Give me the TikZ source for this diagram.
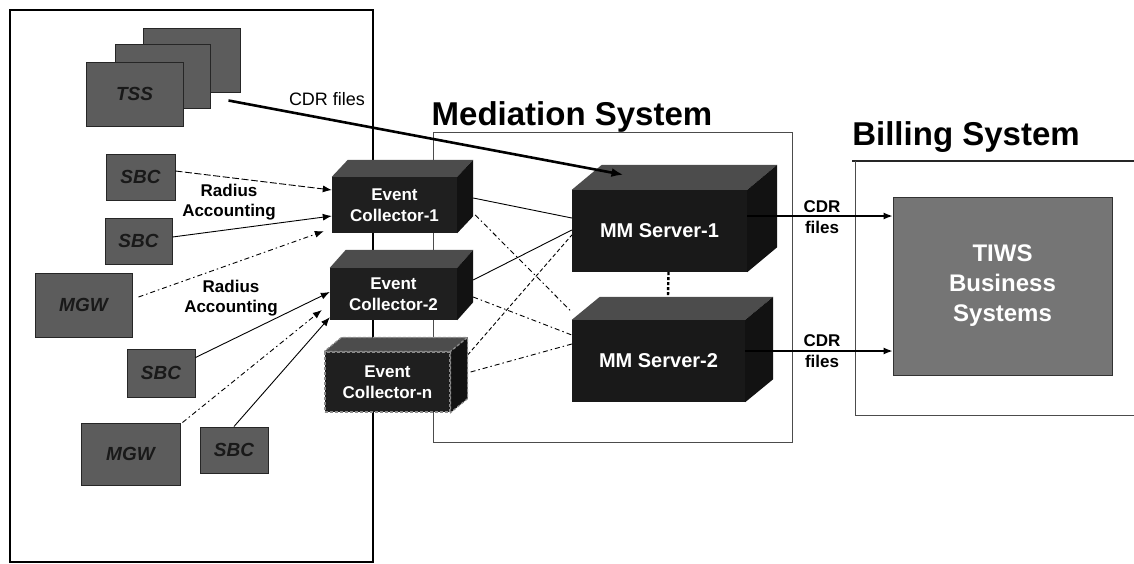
\documentclass[tikz,border=0pt]{standalone}
\usepackage{fontspec}
\setmainfont{Liberation Sans}
\usetikzlibrary{arrows.meta}
\pgfdeclarelayer{bg}
\pgfsetlayers{bg,main}
% top and right faces of a block whose front face is node #2, depth (#3 right, #4 up)
\newcommand\blockfaces[4][]{%
  \fill[topface,#1] (#2.north west) -- (#2.north east) -- ++(#3,-#4)
       -- ([shift={(#3,-#4)}]#2.north west) -- cycle;
  \fill[sideface,#1] (#2.north east) -- (#2.south east) -- ++(#3,-#4)
       -- ([shift={(#3,-#4)}]#2.north east) -- cycle;
}
\begin{document}
\begin{tikzpicture}[x=1pt,y=-1pt,
  src/.style={draw=black!85, fill=black!64, line width=1pt, inner sep=0pt,
    font=\fontsize{19}{21}\selectfont\bfseries\itshape, text=black!90},
  front/.style={fill=black!88, inner sep=0pt, align=center, text=white,
    font=\fontsize{17}{21}\selectfont\bfseries},
  mmfront/.style={front, fill=black!90, font=\fontsize{20}{24}\selectfont\bfseries},
  topface/.style={fill=black!70},
  sideface/.style={fill=black!93},
  ragged/.style={draw=black!45, line width=1.2pt, densely dashed},
  link/.style={line width=0.9pt, black},
  arr/.style={link, -{Latex[length=9pt,width=7pt]}},
  dashdot/.style={dash pattern=on 5pt off 3pt on 1.5pt off 3pt},
  longdash/.style={dash pattern=on 7pt off 2.5pt},
  lbl/.style={font=\fontsize{17}{20}\selectfont\bfseries, align=center, inner sep=0pt},
  title/.style={font=\fontsize{33}{37}\selectfont\bfseries, inner sep=0pt}
]
\useasboundingbox (0,0) rectangle (1134,563);

% ---- network elements ----
\node[src, minimum width=97pt, minimum height=64pt] (tss1) at (191.5,60) {};
\node[src, minimum width=95pt, minimum height=64pt] (tss2) at (162.5,76) {};
\node[src, minimum width=97pt, minimum height=64pt] (tss3) at (134.5,94) {TSS};
\node[src, minimum width=69pt, minimum height=46pt] (sbc1) at (140.5,177) {SBC};
\node[src, minimum width=67pt, minimum height=46pt] (sbc2) at (138.5,241) {SBC};
\node[src, minimum width=97pt, minimum height=64pt] (mgw1) at (83.5,305) {MGW};
\node[src, minimum width=68pt, minimum height=48pt] (sbc3) at (161,373) {SBC};
\node[src, minimum width=99pt, minimum height=62pt] (mgw2) at (130.5,454) {MGW};
\node[src, minimum width=68pt, minimum height=46pt] (sbc4) at (234,450) {SBC};

% ---- event collectors ----
\node[front, minimum width=125pt, minimum height=56pt] (ec1) at (394.5,205) {Event\\Collector-1};
\blockfaces{ec1}{16}{17}
\node[front, minimum width=127pt, minimum height=52pt] (ec2) at (393.5,294) {Event\\Collector-2};
\blockfaces{ec2}{16}{18}
\node[front, ragged, minimum width=125pt, minimum height=60pt] (ecn) at (387.5,382) {Event\\Collector-n};
\blockfaces[ragged]{ecn}{17}{14}

% ---- mediation servers ----
\node[mmfront, minimum width=175pt, minimum height=82pt] (mm1) at (659.5,231) {MM Server-1};
\blockfaces{mm1}{30}{25}
\node[mmfront, minimum width=173pt, minimum height=82pt] (mm2) at (658.5,361) {MM Server-2};
\blockfaces{mm2}{28}{23}

% ---- billing ----
\node[draw=black!80, fill=black!54, line width=1pt, minimum width=219pt, minimum height=178pt,
      align=center, text=white, font=\fontsize{24}{30}\selectfont\bfseries] (tiws)
      at (1002.5,286) {TIWS\\Business\\Systems};

% ---- frames and links behind the blocks ----
\begin{pgfonlayer}{bg}
  \draw[line width=1.1pt] (10,10) rectangle (373,562);
  \draw[black!70, line width=0.9pt] (433,132) rectangle (792,442);
  \draw[black!85, line width=1.5pt] (852,161) -- (1134,161);
  \draw[black!70, line width=0.9pt] (855,161) -- (855,415) -- (1134,415);
  \draw[link] ([shift={(16pt,7pt)}]ec1.east) -- ([yshift=13pt]mm1.west);
  \draw[link, dashdot] ([shift={(18pt,-10pt)}]ec1.east) -- ([yshift=49pt]mm2.west);
  \draw[link] ([shift={(16pt,14pt)}]ec2.east) -- ([yshift=1pt]mm1.west);
  \draw[link, dashdot] ([shift={(16pt,-3pt)}]ec2.east) -- ([yshift=26pt]mm2.west);
  \draw[link, dash pattern=on 4pt off 2.5pt] ([shift={(17pt,27pt)}]ecn.east) -- ([yshift=-4pt]mm1.west);
  \draw[link, dashdot] ([shift={(20pt,10pt)}]ecn.east) -- ([yshift=17pt]mm2.west);
  \draw[line width=2.4pt, dash pattern=on 3pt off 2pt] ([xshift=9pt]mm1.south) -- ([xshift=9pt]mm2.north);
\end{pgfonlayer}

% ---- accounting records into the collectors ----
\draw[arr, longdash] ([yshift=6pt]sbc1.east) -- ([yshift=15pt]ec1.west);
\draw[arr] ([yshift=4pt]sbc2.east) -- ([yshift=-11pt]ec1.west);
\draw[arr, dashdot] ([shift={(6pt,8pt)}]mgw1.east) -- ([shift={(-8pt,2pt)}]ec1.south west);
\draw[arr] ([yshift=-9pt]sbc3.north east) -- ([yshift=2pt]ec2.west);
\draw[arr, dashdot] ([xshift=2pt]mgw2.north east) -- ([shift={(-8pt,-16pt)}]ec2.west);
\draw[arr] (sbc4.north) -- ([yshift=3pt]ec2.south west);

% ---- CDR files ----
\draw[line width=2.6pt, -{Latex[length=12pt,width=9pt]}]
  ([shift={(-12pt,-8pt)}]tss1.south east) -- ([shift={(-36pt,15pt)}]mm1.north);
\coordinate (o1) at ([yshift=15pt]mm1.east);
\coordinate (o2) at ([yshift=10pt]mm2.east);
\draw[arr, line width=1.2pt] (o1) -- (o1 -| tiws.west);
\draw[arr, line width=1.2pt] (o2) -- (o2 -| tiws.west);

% ---- labels ----
\node[font=\fontsize{18}{20}\selectfont, inner sep=0pt] (cdrtop) at (327,99) {CDR files};
\node[lbl] (rad1) at (229,202) {Radius\\Accounting};
\node[lbl] (rad2) at (231,298) {Radius\\Accounting};
\node[lbl, font=\fontsize{17}{21}\selectfont\bfseries] (cdr1) at (822,217) {CDR\\files};
\node[lbl, font=\fontsize{17}{21}\selectfont\bfseries] (cdr2) at (822,351) {CDR\\files};
\node[title] (medtitle) at (572,117) {Mediation System};
\node[title] (billtitle) at (966,137) {Billing System};
\end{tikzpicture}
\end{document}
